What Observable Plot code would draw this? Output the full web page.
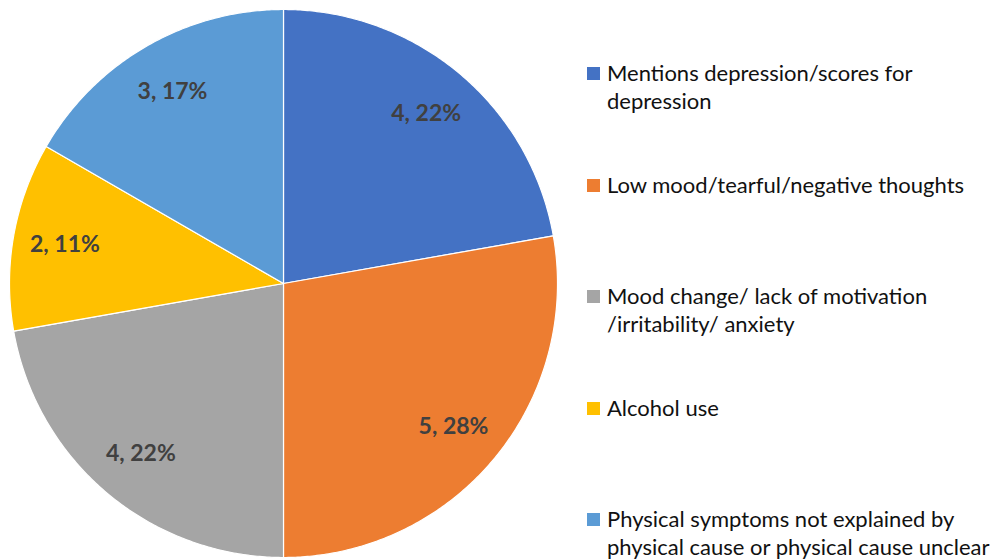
<!DOCTYPE html>
<html>
<head>
<meta charset="utf-8">
<script src="https://cdn.jsdelivr.net/npm/d3@7"></script>
<script src="https://cdn.jsdelivr.net/npm/@observablehq/plot@0.6"></script>
<style>
  html, body { margin: 0; padding: 0; background: #fff; }
  #wrap { position: relative; width: 1000px; height: 559px; overflow: hidden; font-family: Lato, "Open Sans", sans-serif; }
  #chart { position: absolute; left: 0; top: 0; }
  .leg { position: absolute; left: 587px; display: flex; align-items: flex-start; }
  .sw { width: 13px; height: 13px; margin-top: 8px; flex: none; }
  .lt { margin-left: 7px; font-size: 22px; line-height: 28px; color: #111; white-space: pre; }
</style>
</head>
<body>
<div id="wrap"><div id="chart"></div></div>
<script>
const categories = [
  "Mentions depression/scores for\ndepression",
  "Low mood/tearful/negative thoughts",
  "Mood change/ lack of motivation\n/irritability/ anxiety",
  "Alcohol use",
  "Physical symptoms not explained by\nphysical cause or physical cause unclear"
];
const counts = [4, 5, 4, 2, 3];
const colors = ["#4472C4", "#ED7D31", "#A5A5A5", "#FFC000", "#5B9BD5"];

const total = d3.sum(counts);
const data = categories.map((c, i) => ({cat: c, value: counts[i]}));
const arcs = d3.pie().sort(null).value(d => d.value)(data);

// slice outlines as polygons in unit coordinates
const polys = [];
for (const a of arcs) {
  polys.push({cat: a.data.cat, x: 0, y: 0});
  const n = Math.max(2, Math.ceil((a.endAngle - a.startAngle) / (Math.PI / 360)));
  for (let k = 0; k <= n; k++) {
    const t = a.startAngle + (a.endAngle - a.startAngle) * k / n;
    polys.push({cat: a.data.cat, x: Math.sin(t), y: Math.cos(t)});
  }
  polys.push({cat: a.data.cat, x: 0, y: 0});
}
const labels = arcs.map(a => {
  const m = (a.startAngle + a.endAngle) / 2;
  return {
    x: 0.81 * Math.sin(m),
    y: 0.81 * Math.cos(m),
    text: `${a.data.value}, ${Math.round(a.data.value / total * 100)}%`
  };
});

const chart = Plot.plot({
  width: 575,
  height: 559,
  marginLeft: 9,
  marginRight: 18,
  marginTop: 9,
  marginBottom: 2,
  x: {domain: [-1, 1], axis: null},
  y: {domain: [-1, 1], axis: null},
  color: {domain: categories, range: colors},
  style: {fontFamily: "Lato, 'Open Sans', sans-serif", background: "white"},
  marks: [
    Plot.line(polys, {x: "x", y: "y", z: "cat", fill: "cat", stroke: "white", strokeWidth: 1.2, strokeLinejoin: "round"}),
    Plot.text(labels, {x: "x", y: "y", text: "text", fill: "#404040", fontSize: 23, fontWeight: "bold"})
  ]
});
document.getElementById("chart").appendChild(chart);

const wrap = document.getElementById("wrap");
categories.forEach((c, i) => {
  const item = document.createElement("div");
  item.className = "leg";
  item.style.top = (59 + i * 111.5) + "px";
  item.innerHTML = `<div class="sw" style="background:${colors[i]}"></div><div class="lt"></div>`;
  item.querySelector(".lt").textContent = c;
  wrap.appendChild(item);
});
</script>
</body>
</html>
